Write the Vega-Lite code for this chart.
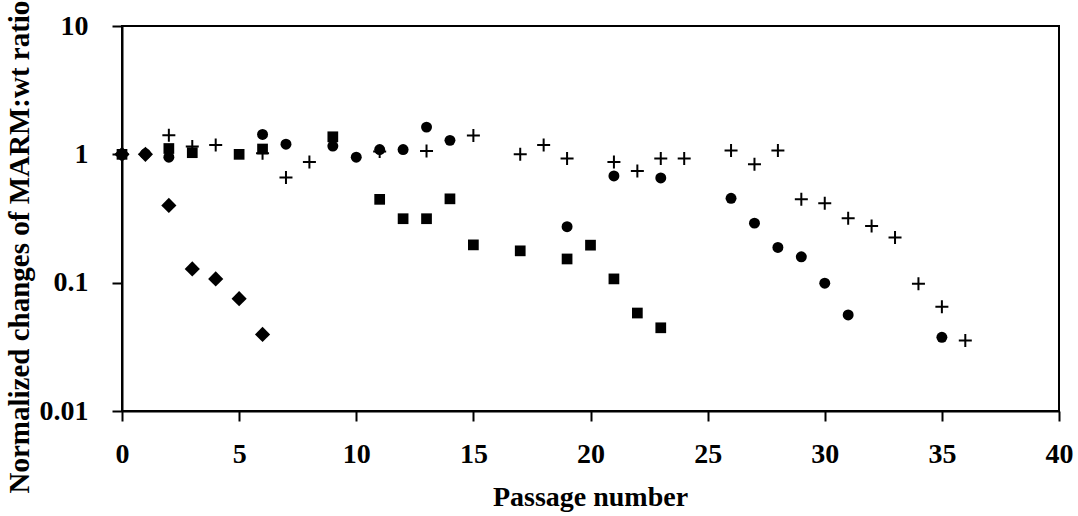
{
  "$schema": "https://vega.github.io/schema/vega-lite/v6.json",
  "autosize": {"type": "none"},
  "padding": {"left": 122, "top": 26, "right": 19, "bottom": 105},
  "width": 937,
  "height": 385,
  "background": "white",
  "config": {
    "view": {"stroke": "black", "strokeWidth": 2}
  },
  "data": {
    "values": [
      {"series": "P", "passage": 0, "ratio": 1.0},
      {"series": "P", "passage": 2, "ratio": 1.41},
      {"series": "P", "passage": 3, "ratio": 1.15},
      {"series": "P", "passage": 4, "ratio": 1.18},
      {"series": "P", "passage": 6, "ratio": 1.02},
      {"series": "P", "passage": 7, "ratio": 0.66},
      {"series": "P", "passage": 8, "ratio": 0.87},
      {"series": "P", "passage": 11, "ratio": 1.05},
      {"series": "P", "passage": 13, "ratio": 1.06},
      {"series": "P", "passage": 15, "ratio": 1.40},
      {"series": "P", "passage": 17, "ratio": 1.0},
      {"series": "P", "passage": 18, "ratio": 1.18},
      {"series": "P", "passage": 19, "ratio": 0.93},
      {"series": "P", "passage": 21, "ratio": 0.87},
      {"series": "P", "passage": 22, "ratio": 0.74},
      {"series": "P", "passage": 23, "ratio": 0.93},
      {"series": "P", "passage": 24, "ratio": 0.93},
      {"series": "P", "passage": 26, "ratio": 1.07},
      {"series": "P", "passage": 27, "ratio": 0.836},
      {"series": "P", "passage": 28, "ratio": 1.07},
      {"series": "P", "passage": 29, "ratio": 0.446},
      {"series": "P", "passage": 30, "ratio": 0.415},
      {"series": "P", "passage": 31, "ratio": 0.318},
      {"series": "P", "passage": 32, "ratio": 0.276},
      {"series": "P", "passage": 33, "ratio": 0.225},
      {"series": "P", "passage": 34, "ratio": 0.098},
      {"series": "P", "passage": 35, "ratio": 0.065},
      {"series": "P", "passage": 36, "ratio": 0.0355},

      {"series": "S", "passage": 0, "ratio": 1.0},
      {"series": "S", "passage": 2, "ratio": 1.11},
      {"series": "S", "passage": 3, "ratio": 1.03},
      {"series": "S", "passage": 5, "ratio": 1.0},
      {"series": "S", "passage": 6, "ratio": 1.1},
      {"series": "S", "passage": 9, "ratio": 1.37},
      {"series": "S", "passage": 11, "ratio": 0.446},
      {"series": "S", "passage": 12, "ratio": 0.315},
      {"series": "S", "passage": 13, "ratio": 0.315},
      {"series": "S", "passage": 14, "ratio": 0.45},
      {"series": "S", "passage": 15, "ratio": 0.197},
      {"series": "S", "passage": 17, "ratio": 0.177},
      {"series": "S", "passage": 19, "ratio": 0.153},
      {"series": "S", "passage": 20, "ratio": 0.196},
      {"series": "S", "passage": 21, "ratio": 0.107},
      {"series": "S", "passage": 22, "ratio": 0.058},
      {"series": "S", "passage": 23, "ratio": 0.0445},

      {"series": "C", "passage": 0, "ratio": 1.0},
      {"series": "C", "passage": 1, "ratio": 1.01},
      {"series": "C", "passage": 2, "ratio": 0.95},
      {"series": "C", "passage": 6, "ratio": 1.43},
      {"series": "C", "passage": 7, "ratio": 1.20},
      {"series": "C", "passage": 9, "ratio": 1.16},
      {"series": "C", "passage": 10, "ratio": 0.95},
      {"series": "C", "passage": 11, "ratio": 1.09},
      {"series": "C", "passage": 12, "ratio": 1.09},
      {"series": "C", "passage": 13, "ratio": 1.63},
      {"series": "C", "passage": 14, "ratio": 1.285},
      {"series": "C", "passage": 19, "ratio": 0.273},
      {"series": "C", "passage": 21, "ratio": 0.678},
      {"series": "C", "passage": 23, "ratio": 0.655},
      {"series": "C", "passage": 26, "ratio": 0.454},
      {"series": "C", "passage": 27, "ratio": 0.291},
      {"series": "C", "passage": 28, "ratio": 0.188},
      {"series": "C", "passage": 29, "ratio": 0.159},
      {"series": "C", "passage": 30, "ratio": 0.099},
      {"series": "C", "passage": 31, "ratio": 0.056},
      {"series": "C", "passage": 35, "ratio": 0.0375},

      {"series": "D", "passage": 0, "ratio": 1.0},
      {"series": "D", "passage": 1, "ratio": 1.0},
      {"series": "D", "passage": 2, "ratio": 0.40},
      {"series": "D", "passage": 3, "ratio": 0.128},
      {"series": "D", "passage": 4, "ratio": 0.107},
      {"series": "D", "passage": 5, "ratio": 0.075},
      {"series": "D", "passage": 6, "ratio": 0.0395}
    ]
  },
  "encoding": {
    "x": {
      "field": "passage", "type": "quantitative",
      "scale": {"domain": [0, 40], "nice": false, "zero": false},
      "axis": {
        "values": [0, 5, 10, 15, 20, 25, 30, 35, 40],
        "grid": false,
        "domainColor": "black", "domainWidth": 2,
        "tickColor": "black", "tickWidth": 2, "tickSize": 10,
        "labelFont": "Times New Roman, Liberation Serif, serif", "labelFontWeight": "bold", "labelFontSize": 28, "labelColor": "black",
        "labelPadding": 19, "labelFlush": false, "labelOverlap": false,
        "title": "Passage number",
        "titleFont": "Times New Roman, Liberation Serif, serif", "titleFontWeight": "bold", "titleFontSize": 28, "titleColor": "black",
        "titleX": 468, "titleY": 94, "titleBaseline": "alphabetic", "titleAlign": "center"
      }
    },
    "y": {
      "field": "ratio", "type": "quantitative",
      "scale": {"type": "log", "domain": [0.01, 10], "nice": false},
      "axis": {
        "values": [0.01, 0.1, 1, 10], "format": "~g",
        "grid": false,
        "domainColor": "black", "domainWidth": 2,
        "tickColor": "black", "tickWidth": 2, "tickSize": 10,
        "labelFont": "Times New Roman, Liberation Serif, serif", "labelFontWeight": "bold", "labelFontSize": 28, "labelColor": "black",
        "labelPadding": 24, "labelFlush": false, "labelOverlap": false,
        "title": "Normalized changes of MARM:wt ratio",
        "titleFont": "Times New Roman, Liberation Serif, serif", "titleFontWeight": "bold", "titleFontSize": 29, "titleColor": "black",
        "titleAngle": -90, "titleAlign": "left", "titleBaseline": "alphabetic",
        "titleX": -94, "titleY": 467
      }
    }
  },
  "layer": [
    {
      "transform": [{"filter": "datum.series === 'P'"}],
      "mark": {"type": "point", "shape": "M-1,0H1M0,-1V1", "filled": false, "color": "black", "stroke": "black", "strokeWidth": 2, "size": 169, "opacity": 1}
    },
    {
      "transform": [{"filter": "datum.series === 'S'"}],
      "mark": {"type": "point", "shape": "square", "filled": true, "color": "black", "size": 115, "opacity": 1}
    },
    {
      "transform": [{"filter": "datum.series === 'C'"}],
      "mark": {"type": "point", "shape": "circle", "filled": true, "color": "black", "size": 120, "opacity": 1}
    },
    {
      "transform": [{"filter": "datum.series === 'D'"}],
      "mark": {"type": "point", "shape": "diamond", "filled": true, "color": "black", "size": 230, "opacity": 1}
    }
  ]
}
